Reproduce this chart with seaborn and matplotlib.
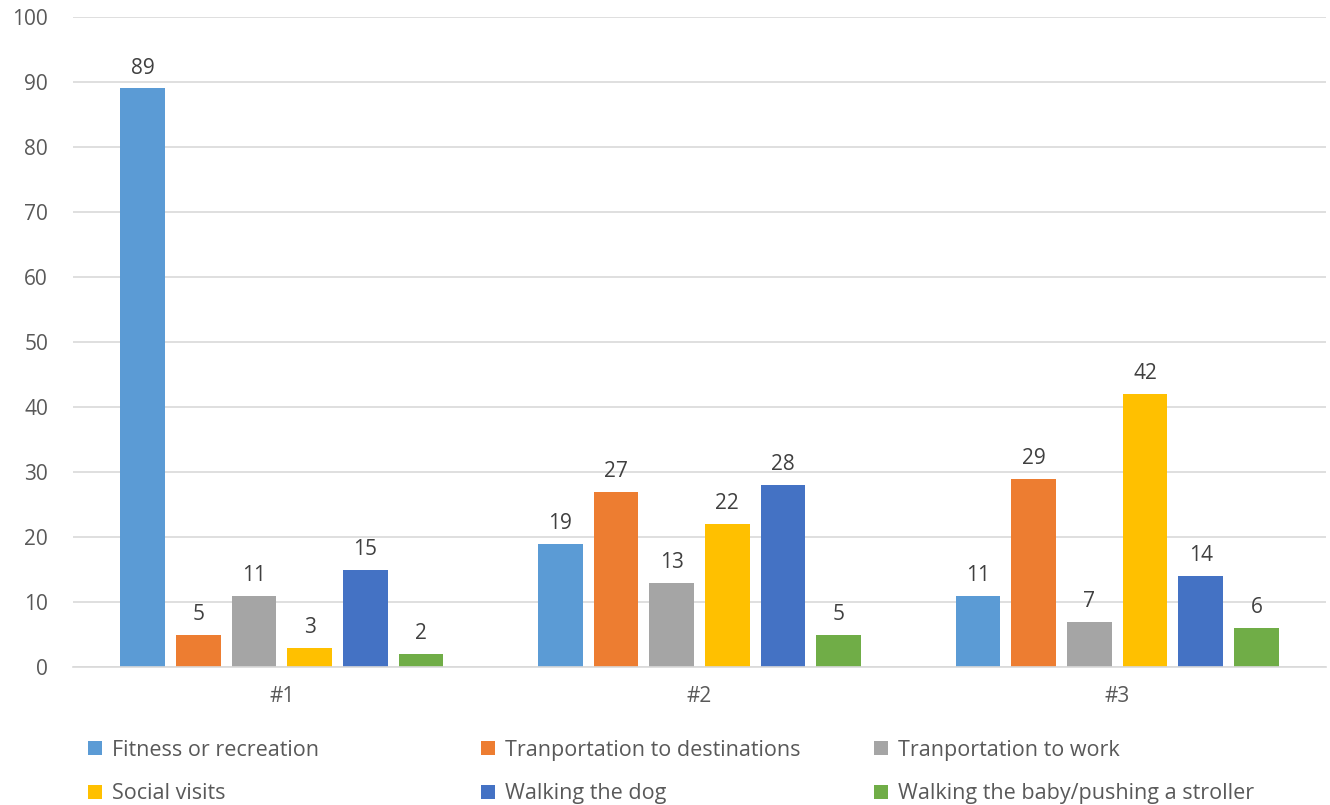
import numpy as np
import pandas as pd
import matplotlib.pyplot as plt
import seaborn as sns
from matplotlib.patches import Patch

#%% Datos
grupos = ["#1", "#2", "#3"]
motivos = ["Fitness or recreation", "Tranportation to destinations",
           "Tranportation to work", "Social visits", "Walking the dog",
           "Walking the baby/pushing a stroller"]
fitness = [89, 19, 11]
transp_destinos = [5, 27, 29]
transp_trabajo = [11, 13, 7]
visitas = [3, 22, 42]
perro = [15, 28, 14]
bebe = [2, 5, 6]

colores = ["#5B9BD5", "#ED7D31", "#A5A5A5", "#FFC000", "#4472C4", "#70AD47"]

series = [fitness, transp_destinos, transp_trabajo, visitas, perro, bebe]
filas = []
for motivo, valores in zip(motivos, series):
    for g, v in zip(grupos, valores):
        filas.append({"grupo": g, "motivo": motivo, "valor": v})
datos = pd.DataFrame(filas)

#%% Grafico
sns.set_style("white")
plt.rcParams["font.family"] = ["Open Sans", "DejaVu Sans"]
tam = 15

fig = plt.figure(figsize=(13.3, 8.05), dpi=100)
ax = fig.add_axes([73 / 1330, 138 / 805, 1253 / 1330, 650 / 805])

sns.barplot(data=datos, x="grupo", y="valor", hue="motivo",
            order=grupos, hue_order=motivos, palette=colores,
            gap=0.2, width=0.8, ax=ax, legend=False, saturation=1,
            linewidth=0)

for cont in ax.containers:
    ax.bar_label(cont, padding=7, fontsize=tam, color="#404040")

ax.set_ylim(0, 100)
ax.set_xlim(-0.5, 2.5)
ax.set_yticks(range(0, 101, 10))
ax.yaxis.grid(True, color="#D9D9D9", linewidth=1.2)
ax.set_axisbelow(True)
for s in ["top", "right", "left"]:
    ax.spines[s].set_visible(False)
ax.spines["bottom"].set_color("#D9D9D9")
ax.spines["bottom"].set_linewidth(1.2)
ax.tick_params(axis="y", length=0, pad=18, labelsize=tam, labelcolor="#595959")
ax.tick_params(axis="x", length=0, pad=14, labelsize=tam, labelcolor="#595959")
ax.set_xlabel("")
ax.set_ylabel("")

# leyenda: tres columnas de ancho fijo, dos filas
handles = [Patch(facecolor=c, edgecolor="none") for c in colores]
for col, x0 in enumerate([88, 481, 874]):
    idx = [col, col + 3]
    fig.legend([handles[i] for i in idx], [motivos[i] for i in idx],
               loc="center left", bbox_to_anchor=(x0 / 1330, 33 / 805),
               frameon=False, fontsize=15.5, borderaxespad=0, borderpad=0,
               handlelength=0.65, handleheight=0.65, handletextpad=0.45,
               labelspacing=1.05, labelcolor="#595959")

fig.savefig("out.png", dpi=100)
